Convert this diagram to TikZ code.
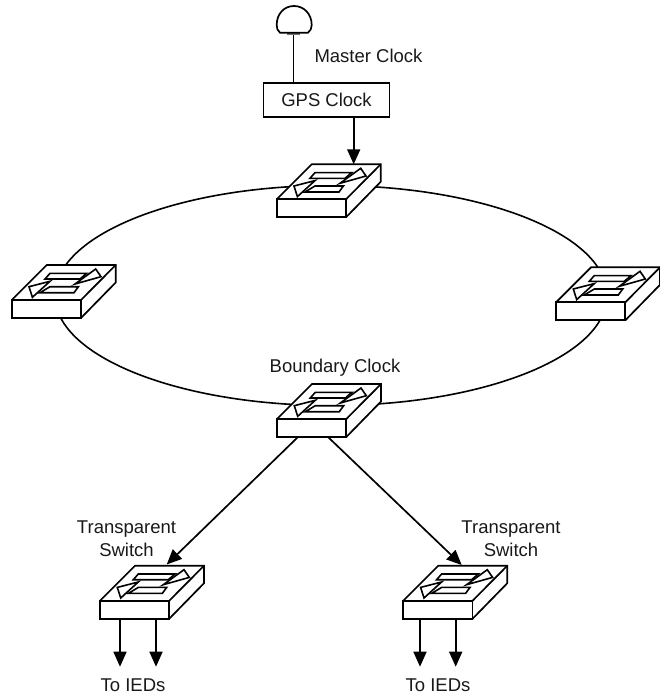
\documentclass[tikz,border=0pt]{standalone}
\usepackage{fontspec}
\setmainfont{Liberation Sans}
\usetikzlibrary{arrows.meta,shapes.geometric}
\tikzset{
  line/.style={draw=black,line width=1.7pt,line join=miter},
  thinline/.style={draw=black,line width=1.6pt,line join=miter},
  flow/.style={line,-{Triangle[length=15pt,width=13pt]}},
  lab/.style={font=\fontsize{18.5}{22}\selectfont,text=black!90,inner sep=0pt,align=center},
  switchbox/.pic={
    \coordinate (-base) at (0,18);
    \coordinate (-tail) at (21,18);
    \coordinate (-tailb) at (51,18);
    \coordinate (-top) at (77,-35);
    \fill[white] (0,0) -- (35,-35) -- (104,-35) -- (104,-17.5) -- (69.3,18) -- (0,18) -- cycle;
    \draw[line] (0,0) -- (69.3,0) -- (69.3,18) -- (0,18) -- cycle;
    \draw[line] (0,0) -- (35,-35) -- (104,-35) -- (104,-17.5) -- (69.3,18);
    \draw[line] (69.3,0) -- (104,-35);
    \draw[thinline] (38.3,-26.7) -- (75,-26.7) -- (68.3,-21) -- (33.3,-21) -- cycle;
    \draw[thinline,fill=white] (84,-31) -- (89.3,-23.3) -- (63.3,-16) -- cycle;
    \draw[thinline] (38.3,-13.3) -- (66.7,-13.3) -- (62.3,-7.3) -- (28.3,-7.3) -- cycle;
    \draw[thinline,fill=white] (17.3,-13.3) -- (38.3,-18.7) -- (20.7,-2.7) -- cycle;
  }
}
\begin{document}
\begin{tikzpicture}[x=1pt,y=-1pt]
\useasboundingbox (0,0) rectangle (660,696);
\fill[white] (0,0) rectangle (660,696);
% ring
\node[ellipse,draw=black,line width=1.6pt,minimum width=552pt,minimum height=220pt,inner sep=0pt] (ring) at (331,295.5) {};
% antenna
\coordinate (ant) at (293.5,35);
\fill[black!55] (287,32.5) rectangle (300,35);
\draw[line,fill=white] (280,32.7) .. controls (277.5,31) and (276.7,28) .. (276.7,25) .. controls (276.7,14) and (284,6) .. (294,6) .. controls (304,6) and (311.7,14) .. (311.7,25) .. controls (311.7,28) and (310.5,31) .. (308,32.7) -- cycle;
% gps box
\node[line,fill=white,minimum width=126pt,minimum height=34pt,inner sep=0pt,lab] (gps) at (326.5,99.7) {GPS Clock};
\draw[line] (ant) -- (ant |- gps.north);
% switches
\pic (top) at (276.7,199.3) {switchbox};
\pic (left) at (11.7,300) {switchbox};
\pic (right) at (556,302.3) {switchbox};
\pic (bnd) at (277,419) {switchbox};
\pic (tl) at (100,600.7) {switchbox};
\pic (tr) at (403.3,600.7) {switchbox};
% connectors
\coordinate (tipl) at (166.7,564.5);
\coordinate (tipr) at (461.7,565);
\coordinate (e1) at (120,666.7);
\coordinate (e2) at (156,666.7);
\coordinate (e3) at (420,666.7);
\coordinate (e4) at (455.7,666.7);
\draw[flow] (top-top |- gps.south) -- (top-top);
\draw[flow] (bnd-tail) -- (tipl);
\draw[flow] (bnd-tailb) -- (tipr);
\draw[flow] (e1 |- tl-base) -- (e1);
\draw[flow] (e2 |- tl-base) -- (e2);
\draw[flow] (e3 |- tr-base) -- (e3);
\draw[flow] (e4 |- tr-base) -- (e4);
% labels
\node[lab] (m) at (368.5,55.5) {Master Clock};
\node[lab] (b) at (335,368) {Boundary Clock};
\node[lab,anchor=center] (t1) at (126.5,538.5) {Transparent\\[1pt]Switch};
\node[lab,anchor=center] (t2) at (511,538.5) {Transparent\\[1pt]Switch};
\node[lab] (i1) at (133,685.5) {To IEDs};
\node[lab] (i2) at (438,685.5) {To IEDs};
\end{tikzpicture}
\end{document}
